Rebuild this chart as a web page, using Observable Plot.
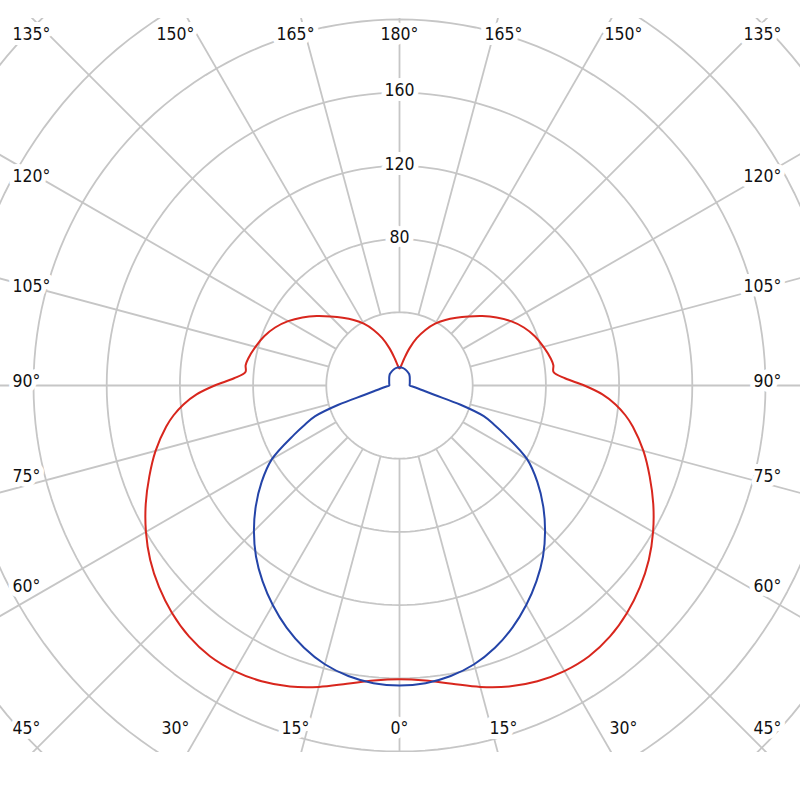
<!DOCTYPE html>
<html><head><meta charset="utf-8">
<script src="https://cdn.jsdelivr.net/npm/d3@7"></script>
<script src="https://cdn.jsdelivr.net/npm/@observablehq/plot@0.6"></script>
<style>html,body{margin:0;padding:0;background:#fff;} svg{display:block;}</style>
</head><body><div id="chart"></div>
<script>
// Luminous intensity (cd/klm) by gamma angle
const gammaRed = [0,5,10,15,20,25,30,35,40,45,50,55,60,65,70,75,80,82.5,85,87.5,90,92.5,95,97.5,100,105,110,115,120,125,130,135,140,145,150,155,160,165,170,175,180];
const redCd    = [160.5,161.8,165.5,170.5,175,178.3,180.2,180.6,179,175.8,171.5,166.3,160,153,145.5,138,129.5,124.5,118.5,111,101,90.5,84.5,84.8,84,81.5,78.7,75,70.3,64.8,59,53.3,48.3,43.7,39,33.5,27.5,21,15,11,9.3];
const gammaBlue = [0,5,10,15,20,25,30,35,40,45,50,55,60,65,67.5,70,72.5,75,77.5,80,85,90,100,110,120,130,140,150,160,170,180];
const blueCd    = [164,163.3,161.2,157.7,152.5,146,138.5,130.5,122,112.5,102.5,92,80.5,63.5,56,49,35,20,14,11,7.5,5.6,5.7,6,6.5,7.3,8.2,8.7,9.3,9.8,10];
const ringValues = [40,80,120,160,200,240,280];
const ringLabels = [80,120,160];
const angleTicks = [0,15,30,45,60,75,90,105,120,135,150,165,180];

// layout
const k = 1.83;            // px per cd/klm
const cx = 399, cy = 385;  // pixel center
const rad = d => d * Math.PI / 180;

// grid
const rings = ringValues.flatMap(r => d3.range(0, 361, 2).map(a => ({r, x: r * Math.sin(rad(a)), y: r * Math.cos(rad(a))})));
const rays = d3.range(0, 360, 15).map(a => ({x1: 40 * Math.sin(rad(a)), y1: 40 * Math.cos(rad(a)), x2: 450 * Math.sin(rad(a)), y2: 450 * Math.cos(rad(a))}));

function curve(gam, val) {
  const n = gam.length;
  const right = gam.map((g, i) => ({x: val[i] * Math.sin(rad(g)), y: -val[i] * Math.cos(rad(g))}));
  const left = [];
  for (let i = n - 2; i >= 1; i--) left.push({x: -val[i] * Math.sin(rad(gam[i])), y: -val[i] * Math.cos(rad(gam[i]))});
  return right.concat(left);
}
const redPts = curve(gammaRed, redCd);
const bluePts = curve(gammaBlue, blueCd);

// angle labels
const labels = [];
for (const a of angleTicks) {
  const sides = (a === 0 || a === 180) ? [1] : [-1, 1];
  for (const s of sides) {
    const dx = s * Math.sin(rad(a)), dy = Math.cos(rad(a));
    const m = Math.max(Math.abs(dx), Math.abs(dy));
    const u = dx / m, v = dy / m;
    let px, py, anchor;
    if (Math.abs(u) > 0.999) {
      anchor = s < 0 ? "start" : "end";
      px = s < 0 ? 12 : 781;
      py = Math.abs(v) > 0.999 ? cy + v * 347 - 4 : cy + v * 355 - 4;
    } else {
      anchor = "middle";
      px = cx + u * 388;
      py = cy + v * 347 - 4;
    }
    labels.push({text: a + "°", anchor, x: (px - cx) / k, y: (cy - py) / k});
  }
}

const font = "'DejaVu Sans Condensed', 'DejaVu Sans', sans-serif";
const txt = (anchor) => Plot.text(labels.filter(d => d.anchor === anchor), {
  x: "x", y: "y", text: "text", textAnchor: anchor, fontSize: 17.5, fill: "#111",
  stroke: "white", strokeWidth: 10, strokeLinejoin: "round", paintOrder: "stroke"
});

const chart = Plot.plot({
  width: 800, height: 800,
  marginTop: 18, marginBottom: 48, marginLeft: 0, marginRight: 0,
  x: {domain: [-399 / k, 401 / k], axis: null},
  y: {domain: [-367 / k, 367 / k], axis: null},
  style: {background: "#fff", fontFamily: font},
  marks: [
    Plot.line(rings, {x: "x", y: "y", z: "r", stroke: "#c6c6c6", strokeWidth: 1.8, clip: true}),
    Plot.link(rays, {x1: "x1", y1: "y1", x2: "x2", y2: "y2", stroke: "#c6c6c6", strokeWidth: 1.8, clip: true}),
    txt("start"), txt("end"), txt("middle"),
    Plot.text(ringLabels, {x: 0, y: d => d, dy: -2, text: d => String(d), fontSize: 17.5, fill: "#111",
      stroke: "white", strokeWidth: 10, strokeLinejoin: "round", paintOrder: "stroke"}),
    Plot.line(redPts, {x: "x", y: "y", stroke: "#d8261d", strokeWidth: 2, curve: "catmull-rom-closed"}),
    Plot.line(bluePts, {x: "x", y: "y", stroke: "#2444a8", strokeWidth: 2, curve: "catmull-rom-closed"})
  ]
});
document.getElementById("chart").append(chart);
</script>
</body></html>
